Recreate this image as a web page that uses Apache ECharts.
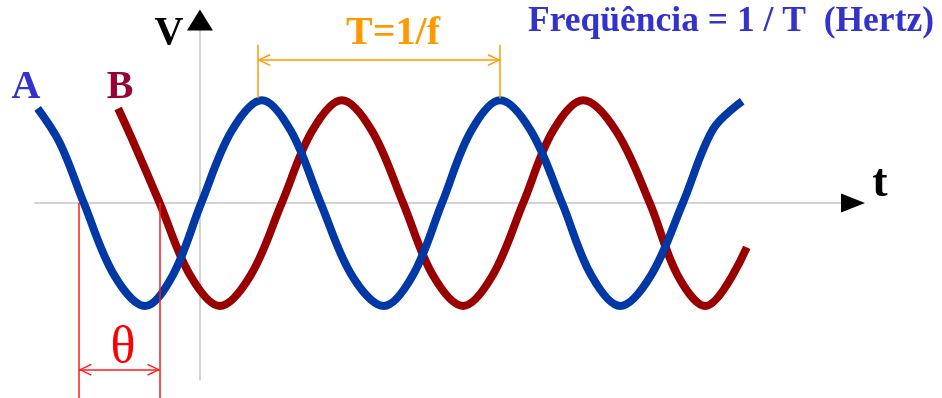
<!DOCTYPE html>
<html>
<head>
<meta charset="utf-8">
<script src="https://cdn.jsdelivr.net/npm/echarts@6/dist/echarts.min.js"></script>
<style>
html, body { margin: 0; padding: 0; background: #fff; }
#chart { width: 942px; height: 398px; }
</style>
</head>
<body>
<div id="chart"></div>
<script>
// onda A (azul) e onda B (vermelha): fase em graus, tensão normalizada (pico = 1)
const faseA = [-246, -212, -176, -130, -83, -41, 2, 48, 94, 138, 183, 230, 279, 323, 367, 411,
               455, 502, 549, 593, 637, 684, 732, 778, 822];
const tensaoA = [0.92, 0.58, 0, -0.7, -1, -0.7, 0, 0.7, 1, 0.7, 0, -0.7, -1, -0.7, 0, 0.7,
                 1, 0.7, 0, -0.7, -1, -0.7, 0, 0.72, 0.99];
const faseB = [-124, -102, -61, -15, 30, 77, 124, 170, 215, 261, 308, 353, 399, 444,
               490, 535, 581, 631, 682, 724, 766, 829];
const tensaoB = [0.92, 0.61, 0, -0.7, -1, -0.7, 0, 0.7, 1, 0.7, 0, -0.7, -1, -0.7,
                 0, 0.7, 1, 0.7, 0, -0.7, -1, -0.43];

// cotas: período T (entre dois picos de A) e defasagem θ (entre A e B)
const periodoT = [88, 455];
const defasagem = [-183, -61];

const serif = '"Liberation Serif", "Times New Roman", serif';
// seta aberta (tipo "<") para as cotas
const seta = 'path://M6,0 L12,11 L10.7,11.7 L6,2.6 L1.3,11.7 L0,11 Z';

const chart = echarts.init(document.getElementById('chart'), null, { renderer: 'canvas' });

function eixo(dim, min, max, cor, largura, comSeta) {
    let ax = {
        type: 'value',
        min: min,
        max: max,
        axisLine: {
            onZero: true,
            onZeroAxisIndex: 0,
            lineStyle: { color: cor, width: largura }
        },
        axisTick: { show: false },
        axisLabel: { show: false },
        splitLine: { show: false }
    };
    if (comSeta) {
        ax.axisLine.symbol = ['none', 'triangle'];
        ax.axisLine.symbolSize = dim === 'x' ? [19, 24] : [26, 21];
    }
    return ax;
}

function texto(t, x, y, cor, fonte, alinh) {
    return {
        type: 'text',
        x: x,
        y: y,
        silent: true,
        style: {
            text: t,
            fill: cor,
            font: fonte,
            align: alinh || 'center',
            textAlign: alinh || 'center',
            verticalAlign: 'middle',
            textVerticalAlign: 'middle'
        }
    };
}

// linha de cota vertical; o "y" só evita que o ponto fora da grade seja descartado
function cotaVertical(x, v0, v1, foraDaGrade) {
    let fim = { coord: [x, v1] };
    if (foraDaGrade) fim.y = 398;
    return [{ coord: [x, v0] }, fim];
}

function cotaSeta(x0, x1, v) {
    return [
        { coord: [x0, v], symbol: seta, symbolSize: [12, 13], symbolOffset: [0, 6] },
        { coord: [x1, v], symbol: seta, symbolSize: [12, 13], symbolOffset: [0, 6] }
    ];
}

const option = {
    animation: false,
    backgroundColor: '#fff',
    grid: { left: 35, right: 89, top: 20, bottom: 18 },
    xAxis: [
        eixo('x', -250, 990, '#c4c4c4', 1.5, false),
        eixo('x', -250, 990, '#000', 0, true)
    ],
    yAxis: [
        eixo('y', -1.72, 1.78, '#c4c4c4', 1.5, false),
        eixo('y', -1.72, 1.78, '#000', 0, true)
    ],
    series: [
        {
            name: 'B',
            type: 'line',
            smooth: 0.35,
            showSymbol: false,
            clip: false,
            silent: true,
            lineStyle: { color: '#990000', width: 8 },
            data: faseB.map((f, i) => [f, tensaoB[i]]),
            markLine: {
                silent: true,
                animation: false,
                symbol: 'none',
                label: { show: false },
                lineStyle: { color: '#ff1a1a', width: 1.5, type: 'solid' },
                data: [
                    cotaVertical(defasagem[0], 0, -1.9, true),
                    cotaVertical(defasagem[1], 0, -1.9, true),
                    cotaSeta(defasagem[0], defasagem[1], -1.62)
                ]
            }
        },
        {
            name: 'A',
            type: 'line',
            smooth: 0.35,
            showSymbol: false,
            clip: false,
            silent: true,
            lineStyle: { color: '#0038a6', width: 8 },
            data: faseA.map((f, i) => [f, tensaoA[i]]),
            markLine: {
                silent: true,
                animation: false,
                symbol: 'none',
                label: { show: false },
                lineStyle: { color: '#ff9900', width: 1.5, type: 'solid' },
                data: [
                    cotaVertical(periodoT[0], 1.02, 1.54),
                    cotaVertical(periodoT[1], 1.02, 1.54),
                    cotaSeta(periodoT[0], periodoT[1], 1.39)
                ]
            }
        }
    ],
    graphic: [
        texto('V', 169, 34, '#000', 'bold 40px ' + serif),
        texto('t', 880, 184, '#000', 'bold 46px ' + serif),
        texto('A', 26, 88, '#3333cc', 'bold 40px ' + serif),
        texto('B', 120, 88, '#990033', 'bold 40px ' + serif),
        texto('T=1/f', 393, 34, '#ff9900', 'bold 40px ' + serif),
        texto('θ', 123, 348, '#ff0000', '52px ' + serif),
        texto('Freqüência = 1 / T  (Hertz)', 528, 22, '#3333cc', 'bold 35.5px ' + serif, 'left')
    ]
};

chart.setOption(option);
</script>
</body>
</html>
